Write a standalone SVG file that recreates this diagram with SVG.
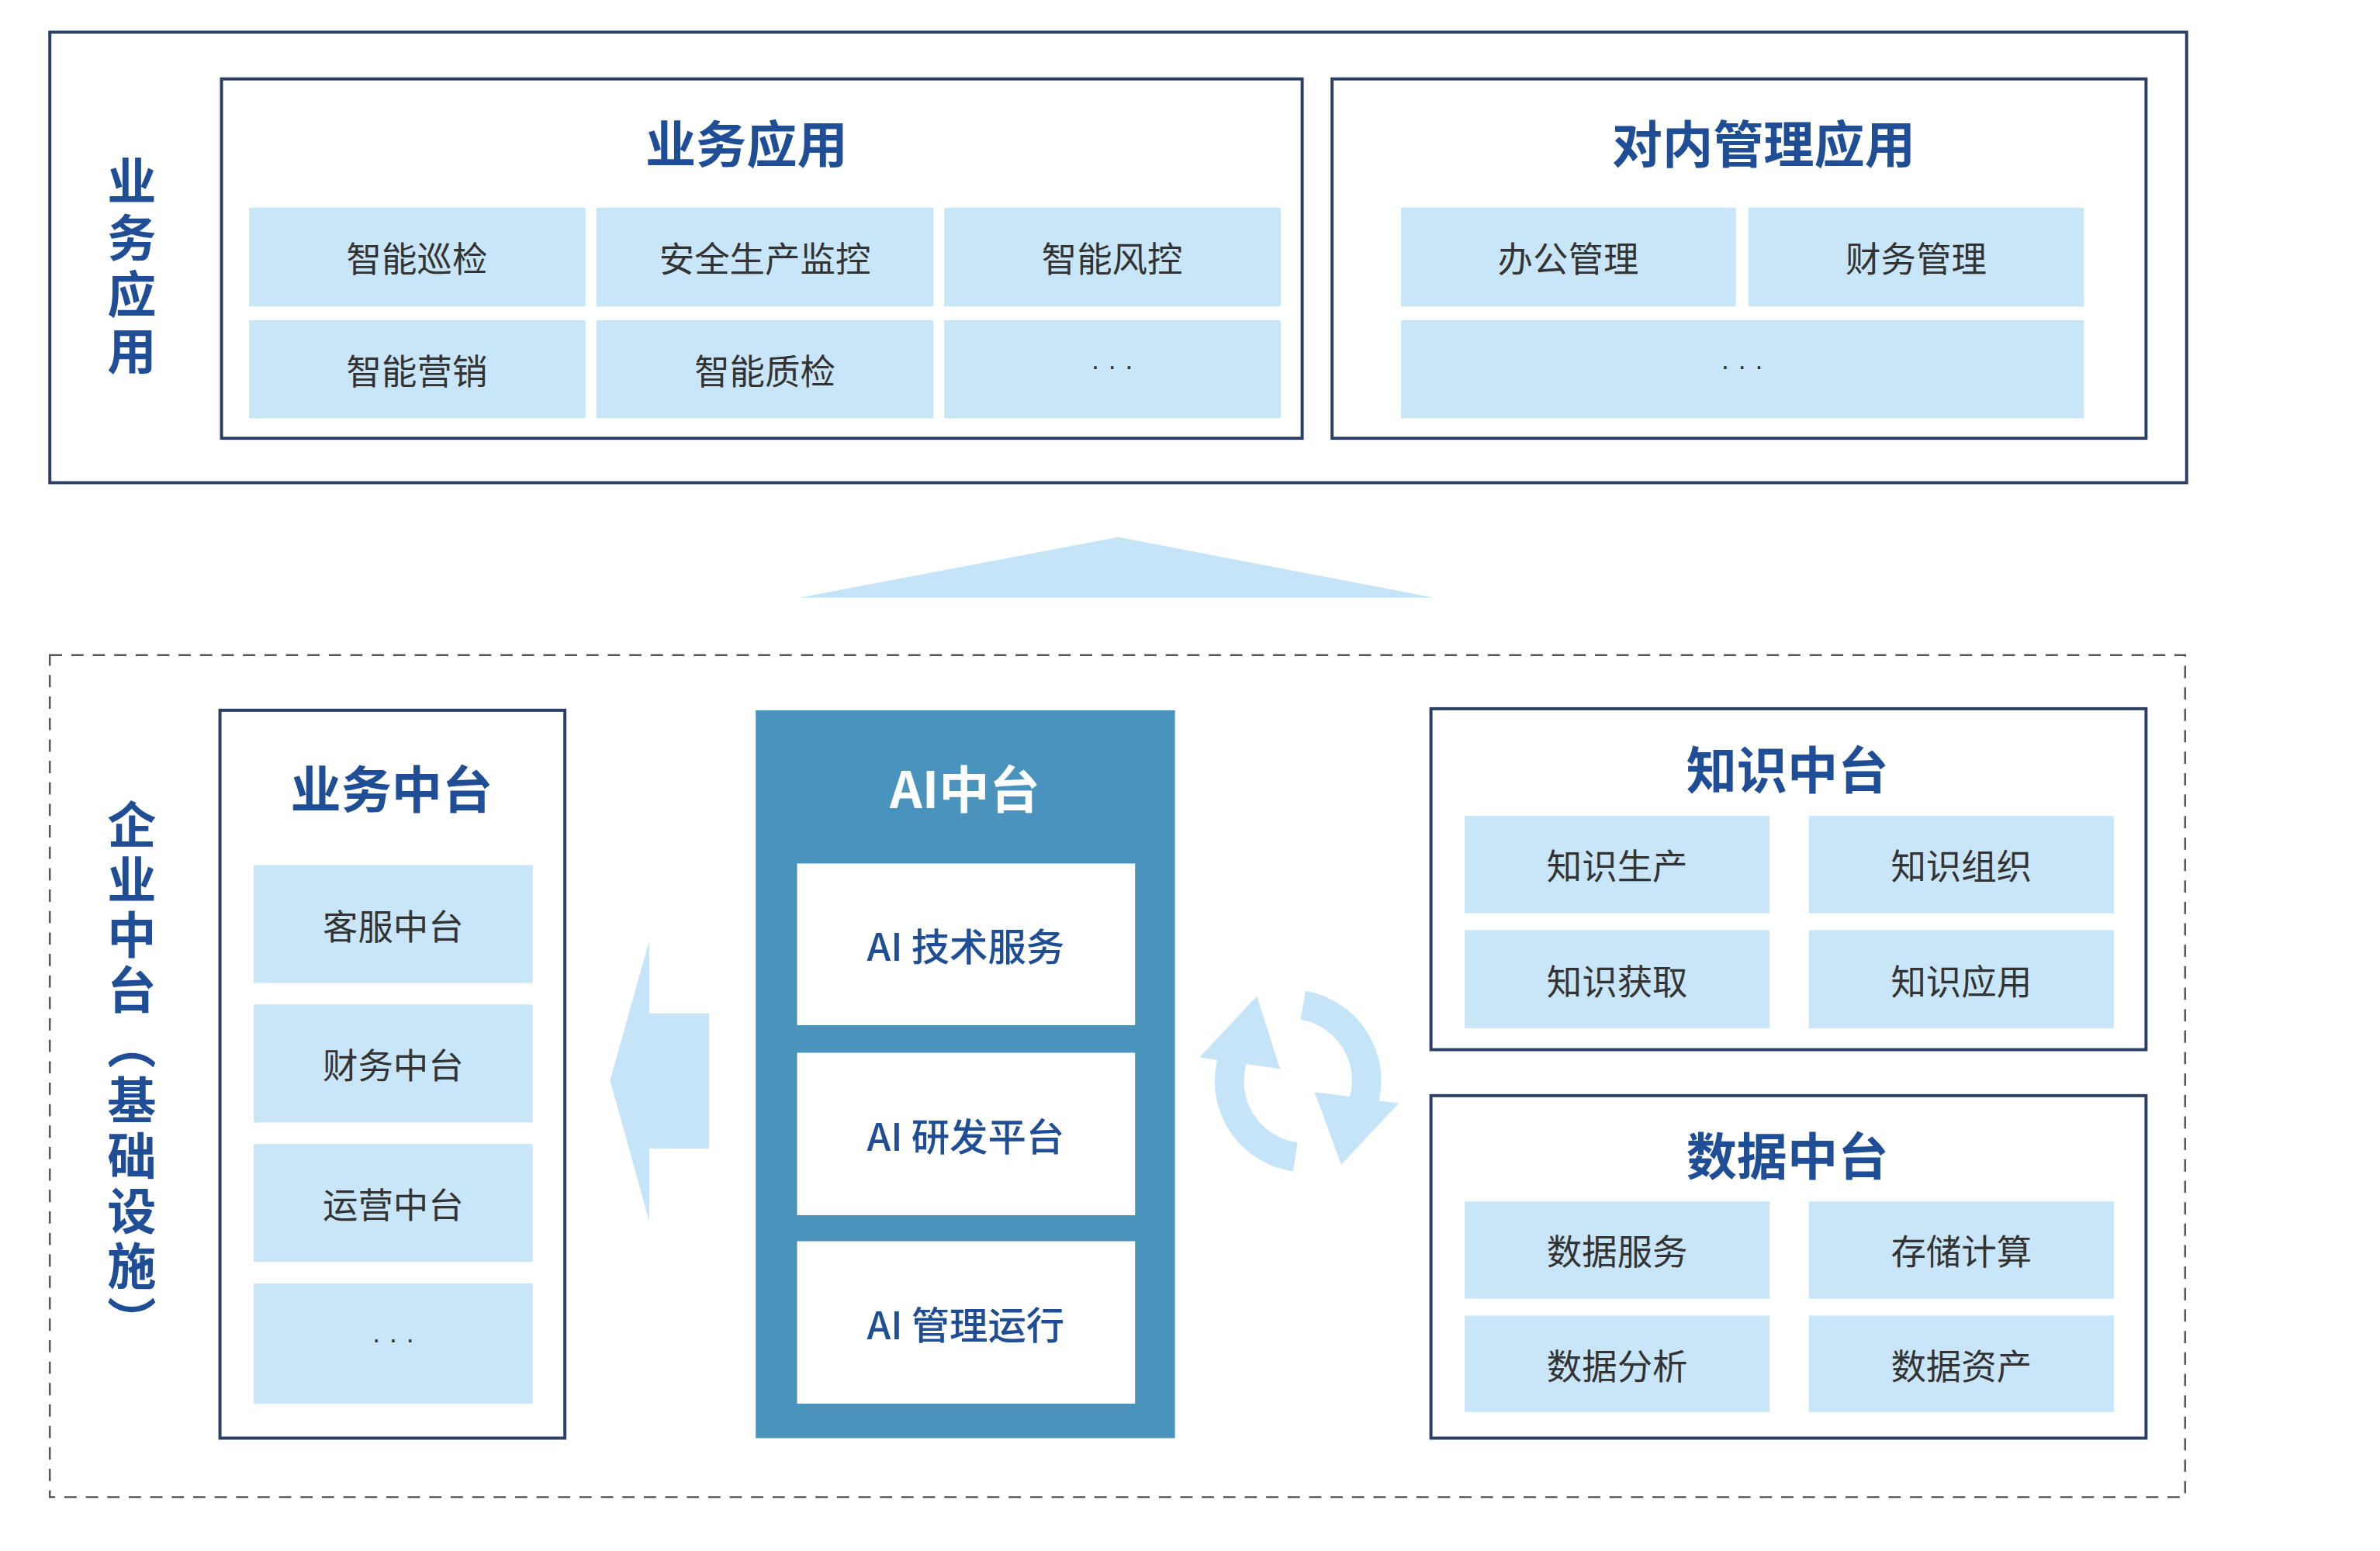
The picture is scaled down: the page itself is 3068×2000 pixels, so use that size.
<svg xmlns="http://www.w3.org/2000/svg" width="3068" height="2000" viewBox="0 0 3068 2000">
<style>
.frame{fill:#fff;stroke:#2b3f66;stroke-width:4}
.cell{fill:#c9e6f8}
.ct{font-family:"Noto Sans CJK SC","Liberation Sans",sans-serif;font-size:46px;fill:#333;text-anchor:middle;dominant-baseline:central}
.dt{font-family:"Liberation Sans",sans-serif;font-size:36px;fill:#333;text-anchor:middle;dominant-baseline:central}
.tt{font-family:"Noto Sans CJK SC","Liberation Sans",sans-serif;font-size:66px;font-weight:bold;fill:#1f4e96;text-anchor:middle;dominant-baseline:central}
.vt{font-family:"Noto Sans CJK SC","Liberation Sans",sans-serif;font-size:64px;font-weight:bold;fill:#1f4e96;text-anchor:middle}
.at{font-family:"Noto Sans CJK SC","Liberation Sans",sans-serif;font-size:50px;font-weight:500;fill:#1f4e96;text-anchor:middle;dominant-baseline:central}
.lb{fill:#c6e4f7}
</style>
<rect width="3068" height="2000" fill="#fff"/>
<g transform="scale(0.988)">
<g id="top">
<rect class="frame" x="65" y="42" width="2788" height="588"/>
<text class="vt"><tspan x="172" y="260">业</tspan><tspan x="172" y="334">务</tspan><tspan x="172" y="408">应</tspan><tspan x="172" y="482">用</tspan></text>
</g>
<g id="biz-app">
<rect class="frame" x="289" y="103" width="1410" height="469"/>
<text class="tt" x="974" y="184">业务应用</text>
<rect class="cell" x="325" y="271" width="439" height="129"/><text class="ct" x="544" y="335">智能巡检</text>
<rect class="cell" x="778" y="271" width="440" height="129"/><text class="ct" x="998" y="335">安全生产监控</text>
<rect class="cell" x="1232" y="271" width="439" height="129"/><text class="ct" x="1451" y="335">智能风控</text>
<rect class="cell" x="325" y="418" width="439" height="128"/><text class="ct" x="544" y="482">智能营销</text>
<rect class="cell" x="778" y="418" width="440" height="128"/><text class="ct" x="998" y="482">智能质检</text>
<rect class="cell" x="1232" y="418" width="439" height="128"/><text class="dt" x="1451" y="478">· · ·</text>
</g>
<g id="internal-app">
<rect class="frame" x="1738" y="103" width="1062" height="469"/>
<text class="tt" x="2301" y="184">对内管理应用</text>
<rect class="cell" x="1828" y="271" width="437" height="129"/><text class="ct" x="2046" y="335">办公管理</text>
<rect class="cell" x="2281" y="271" width="438" height="129"/><text class="ct" x="2500" y="335">财务管理</text>
<rect class="cell" x="1828" y="418" width="891" height="128"/><text class="dt" x="2273" y="478">· · ·</text>
</g>
<g id="connectors">
<polygon class="lb" points="1043,780 1459,701 1871,780"/>
<polygon class="lb" points="796,1410 847,1228 847,1323 925,1323 925,1499 847,1499 847,1594"/>
<path d="M1690,1510 A100,100 0 0 1 1618,1360" fill="none" stroke="#c6e4f7" stroke-width="38"/>
<polygon class="lb" points="1565,1380 1640,1300 1670,1395"/>
<path d="M1700,1312 A100,100 0 0 1 1770,1460" fill="none" stroke="#c6e4f7" stroke-width="38"/>
<polygon class="lb" points="1825,1440 1750,1520 1715,1425"/>
</g>
<g id="enterprise">
<rect x="65" y="855" width="2786" height="1099" fill="none" stroke="#555" stroke-width="2.5" stroke-dasharray="16 12"/>
<text class="vt"><tspan x="172" y="1100">企</tspan><tspan x="172" y="1172">业</tspan><tspan x="172" y="1244">中</tspan><tspan x="172" y="1316">台</tspan><tspan x="172" y="1388">︵</tspan><tspan x="172" y="1460">基</tspan><tspan x="172" y="1532">础</tspan><tspan x="172" y="1604">设</tspan><tspan x="172" y="1676">施</tspan><tspan x="172" y="1748">︶</tspan></text>
</g>
<g id="biz-mid">
<rect class="frame" x="287" y="927" width="450" height="950"/>
<text class="tt" x="511" y="1026">业务中台</text>
<rect class="cell" x="331" y="1129" width="364" height="154"/><text class="ct" x="513" y="1206">客服中台</text>
<rect class="cell" x="331" y="1311" width="364" height="154"/><text class="ct" x="513" y="1388">财务中台</text>
<rect class="cell" x="331" y="1493" width="364" height="154"/><text class="ct" x="513" y="1570">运营中台</text>
<rect class="cell" x="331" y="1675" width="364" height="157"/><text class="dt" x="513" y="1748">· · ·</text>
</g>
<g id="ai-mid">
<rect x="986" y="927" width="547" height="950" fill="#4a93bd"/>
<text class="tt" x="1259" y="1026" style="fill:#fff">AI中台</text>
<rect x="1040" y="1127" width="441" height="211" fill="#fff"/><text class="at" x="1260" y="1232">AI 技术服务</text>
<rect x="1040" y="1374" width="441" height="212" fill="#fff"/><text class="at" x="1260" y="1480">AI 研发平台</text>
<rect x="1040" y="1620" width="441" height="212" fill="#fff"/><text class="at" x="1260" y="1726">AI 管理运行</text>
</g>
<g id="knowledge">
<rect class="frame" x="1867" y="925" width="933" height="445"/>
<text class="tt" x="2332" y="1000">知识中台</text>
<rect class="cell" x="1911" y="1065" width="398" height="127"/><text class="ct" x="2110" y="1128">知识生产</text>
<rect class="cell" x="2360" y="1065" width="398" height="127"/><text class="ct" x="2559" y="1128">知识组织</text>
<rect class="cell" x="1911" y="1214" width="398" height="128"/><text class="ct" x="2110" y="1278">知识获取</text>
<rect class="cell" x="2360" y="1214" width="398" height="128"/><text class="ct" x="2559" y="1278">知识应用</text>
</g>
<g id="data">
<rect class="frame" x="1867" y="1430" width="933" height="447"/>
<text class="tt" x="2332" y="1505">数据中台</text>
<rect class="cell" x="1911" y="1568" width="398" height="127"/><text class="ct" x="2110" y="1631">数据服务</text>
<rect class="cell" x="2360" y="1568" width="398" height="127"/><text class="ct" x="2559" y="1631">存储计算</text>
<rect class="cell" x="1911" y="1717" width="398" height="126"/><text class="ct" x="2110" y="1780">数据分析</text>
<rect class="cell" x="2360" y="1717" width="398" height="126"/><text class="ct" x="2559" y="1780">数据资产</text>
</g>
</g>
</svg>
